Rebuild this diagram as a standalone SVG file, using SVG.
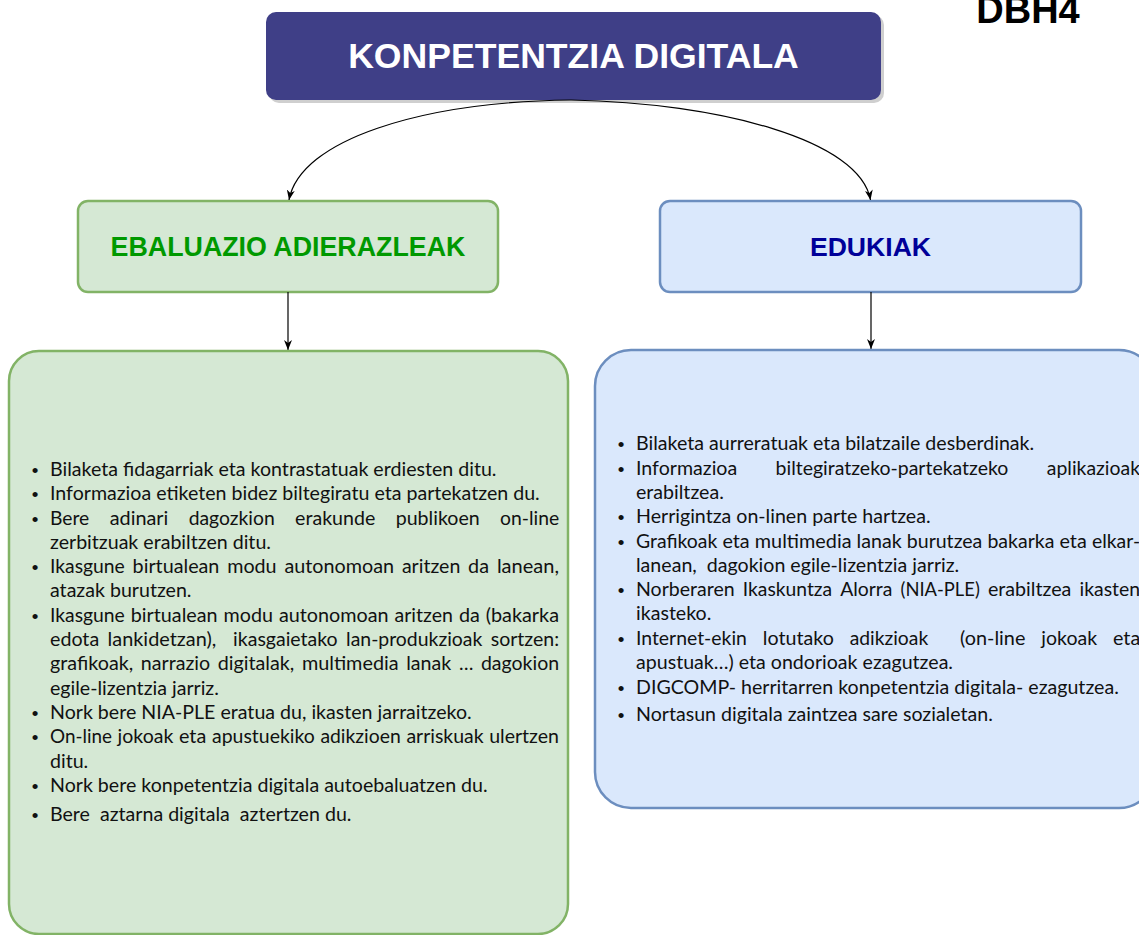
<svg xmlns="http://www.w3.org/2000/svg" width="1139" height="935" viewBox="0 0 1139 935">
<style>
.head{font-family:"Liberation Sans",Arial,sans-serif;font-weight:bold;}
.body{font-family:Lato,"Open Sans",sans-serif;font-size:19.6px;fill:#111;white-space:pre;}
.bul{font-family:"Liberation Sans",Arial,sans-serif;font-size:19px;fill:#111;text-anchor:middle;}
.edge{fill:none;stroke:#000;stroke-width:1.2;marker-end:url(#arr);}
</style>
<defs>
<marker id="arr" viewBox="0 0 10 8" refX="10" refY="4" markerWidth="10" markerHeight="8" markerUnits="userSpaceOnUse" orient="auto">
<path d="M0,0 L10,4 L0,8 L3,4 z" fill="#000"/>
</marker>
</defs>
<rect width="1139" height="935" fill="#fff"/>
<text class="head" x="1028" y="23" font-size="38" text-anchor="middle" fill="#000">DBH4</text>

<g id="title">
<rect x="269" y="15" width="615" height="88" rx="10" fill="#cfcfcf"/>
<rect x="266" y="12" width="615" height="88" rx="10" fill="#3f3f87"/>
<text class="head" x="573.5" y="68" font-size="35.6" text-anchor="middle" fill="#fff">KONPETENTZIA DIGITALA</text>
</g>

<g id="ebaluazio">
<rect x="78" y="201" width="420" height="91" rx="10" fill="#d5e8d4" stroke="#82b366" stroke-width="2.5"/>
<text class="head" x="288" y="256" font-size="26.8" text-anchor="middle" fill="#009900">EBALUAZIO ADIERAZLEAK</text>
</g>

<g id="edukiak">
<rect x="660" y="201" width="421" height="91" rx="10" fill="#dae8fc" stroke="#6c8ebf" stroke-width="2.5"/>
<text class="head" x="870.5" y="256" font-size="26.6" text-anchor="middle" fill="#000099">EDUKIAK</text>
</g>

<g id="connectors">
<path class="edge" d="M571 100 C420 102,300 140,289 200"/>
<path class="edge" d="M571 100 C720 103,860 140,870.5 200"/>
<path class="edge" d="M288 292 L288 350"/>
<path class="edge" d="M871 292 L871 349"/>
</g>

<g id="ebaluazio-list">
<rect x="9" y="351" width="559" height="583" rx="30" fill="#d5e8d4" stroke="#82b366" stroke-width="2.5"/>
<text class="bul" x="35" y="477">•</text>
<text class="bul" x="35" y="501">•</text>
<text class="bul" x="35" y="526">•</text>
<text class="bul" x="35" y="574">•</text>
<text class="bul" x="35" y="623">•</text>
<text class="bul" x="35" y="720">•</text>
<text class="bul" x="35" y="744">•</text>
<text class="bul" x="35" y="793">•</text>
<text class="bul" x="35" y="822">•</text>
<text class="body" x="50" y="476">Bilaketa fidagarriak eta kontrastatuak erdiesten ditu.</text>
<text class="body" x="50" y="500">Informazioa etiketen bidez biltegiratu eta partekatzen du.</text>
<g>
<text class="body" y="525" x="50" textLength="39.3" lengthAdjust="spacingAndGlyphs">Bere</text>
<text class="body" y="525" x="109.7" textLength="58.6" lengthAdjust="spacingAndGlyphs">adinari</text>
<text class="body" y="525" x="188.7" textLength="86" lengthAdjust="spacingAndGlyphs">dagozkion</text>
<text class="body" y="525" x="295.1" textLength="80.2" lengthAdjust="spacingAndGlyphs">erakunde</text>
<text class="body" y="525" x="395.7" textLength="84" lengthAdjust="spacingAndGlyphs">publikoen</text>
<text class="body" y="525" x="500.1" textLength="59.1" lengthAdjust="spacingAndGlyphs">on-line</text>
</g>
<text class="body" x="50" y="549">zerbitzuak erabiltzen ditu.</text>
<g>
<text class="body" y="573" x="50" textLength="74.8" lengthAdjust="spacingAndGlyphs">Ikasgune</text>
<text class="body" y="573" x="132.6" textLength="86.8" lengthAdjust="spacingAndGlyphs">birtualean</text>
<text class="body" y="573" x="227.2" textLength="49.4" lengthAdjust="spacingAndGlyphs">modu</text>
<text class="body" y="573" x="284.5" textLength="109.6" lengthAdjust="spacingAndGlyphs">autonomoan</text>
<text class="body" y="573" x="401.9" textLength="58.4" lengthAdjust="spacingAndGlyphs">aritzen</text>
<text class="body" y="573" x="468.1" textLength="20.9" lengthAdjust="spacingAndGlyphs">da</text>
<text class="body" y="573" x="496.9" textLength="62.1" lengthAdjust="spacingAndGlyphs">lanean,</text>
</g>
<text class="body" x="50" y="597">atazak burutzen.</text>
<g>
<text class="body" y="622" x="50" textLength="74.8" lengthAdjust="spacingAndGlyphs">Ikasgune</text>
<text class="body" y="622" x="130.8" textLength="86.8" lengthAdjust="spacingAndGlyphs">birtualean</text>
<text class="body" y="622" x="223.5" textLength="49.4" lengthAdjust="spacingAndGlyphs">modu</text>
<text class="body" y="622" x="278.9" textLength="109.6" lengthAdjust="spacingAndGlyphs">autonomoan</text>
<text class="body" y="622" x="394.5" textLength="58.4" lengthAdjust="spacingAndGlyphs">aritzen</text>
<text class="body" y="622" x="458.9" textLength="20.9" lengthAdjust="spacingAndGlyphs">da</text>
<text class="body" y="622" x="485.7" textLength="73.3" lengthAdjust="spacingAndGlyphs">(bakarka</text>
</g>
<g>
<text class="body" y="646" x="50" textLength="49.2" lengthAdjust="spacingAndGlyphs">edota</text>
<text class="body" y="646" x="107.6" textLength="108.7" lengthAdjust="spacingAndGlyphs">lankidetzan),</text>
<text class="body" y="646" x="233.1" textLength="104.6" lengthAdjust="spacingAndGlyphs">ikasgaietako</text>
<text class="body" y="646" x="346.1" textLength="136.2" lengthAdjust="spacingAndGlyphs">lan-produkzioak</text>
<text class="body" y="646" x="490.7" textLength="68.4" lengthAdjust="spacingAndGlyphs">sortzen:</text>
</g>
<g>
<text class="body" y="670" x="50" textLength="83.2" lengthAdjust="spacingAndGlyphs">grafikoak,</text>
<text class="body" y="670" x="140.8" textLength="69.3" lengthAdjust="spacingAndGlyphs">narrazio</text>
<text class="body" y="670" x="217.7" textLength="76.6" lengthAdjust="spacingAndGlyphs">digitalak,</text>
<text class="body" y="670" x="301.9" textLength="96.7" lengthAdjust="spacingAndGlyphs">multimedia</text>
<text class="body" y="670" x="406.2" textLength="45.1" lengthAdjust="spacingAndGlyphs">lanak</text>
<text class="body" y="670" x="458.9" textLength="14.4" lengthAdjust="spacingAndGlyphs">…</text>
<text class="body" y="670" x="480.9" textLength="78.2" lengthAdjust="spacingAndGlyphs">dagokion</text>
</g>
<text class="body" x="50" y="695">egile-lizentzia jarriz.</text>
<text class="body" x="50" y="719">Nork bere NIA-PLE eratua du, ikasten jarraitzeko.</text>
<g>
<text class="body" y="743" x="50" textLength="61.9" lengthAdjust="spacingAndGlyphs">On-line</text>
<text class="body" y="743" x="117.6" textLength="55.8" lengthAdjust="spacingAndGlyphs">jokoak</text>
<text class="body" y="743" x="179" textLength="27.3" lengthAdjust="spacingAndGlyphs">eta</text>
<text class="body" y="743" x="212" textLength="102.8" lengthAdjust="spacingAndGlyphs">apustuekiko</text>
<text class="body" y="743" x="320.4" textLength="80.3" lengthAdjust="spacingAndGlyphs">adikzioen</text>
<text class="body" y="743" x="406.4" textLength="77.2" lengthAdjust="spacingAndGlyphs">arriskuak</text>
<text class="body" y="743" x="489.2" textLength="69.8" lengthAdjust="spacingAndGlyphs">ulertzen</text>
</g>
<text class="body" x="50" y="768">ditu.</text>
<text class="body" x="50" y="792">Nork bere konpetentzia digitala autoebaluatzen du.</text>
<text class="body" x="50" y="821">Bere  aztarna digitala  aztertzen du.</text>
</g>

<g id="edukiak-list">
<rect x="595" y="350" width="560" height="458" rx="36" fill="#dae8fc" stroke="#6c8ebf" stroke-width="2.5"/>
<text class="bul" x="621" y="451">•</text>
<text class="bul" x="621" y="476">•</text>
<text class="bul" x="621" y="524">•</text>
<text class="bul" x="621" y="549">•</text>
<text class="bul" x="621" y="597">•</text>
<text class="bul" x="621" y="646">•</text>
<text class="bul" x="621" y="695">•</text>
<text class="bul" x="621" y="722">•</text>
<text class="body" x="636" y="450">Bilaketa aurreratuak eta bilatzaile desberdinak.</text>
<g>
<text class="body" y="475" x="636" textLength="101.2" lengthAdjust="spacingAndGlyphs">Informazioa</text>
<text class="body" y="475" x="775.6" textLength="232.8" lengthAdjust="spacingAndGlyphs">biltegiratzeko-partekatzeko</text>
<text class="body" y="475" x="1046.8" textLength="93.2" lengthAdjust="spacingAndGlyphs">aplikazioak</text>
</g>
<text class="body" x="636" y="499">erabiltzea.</text>
<text class="body" x="636" y="523">Herrigintza on-linen parte hartzea.</text>
<g>
<text class="body" y="548" x="636" textLength="81.3" lengthAdjust="spacingAndGlyphs">Grafikoak</text>
<text class="body" y="548" x="722.4" textLength="27.3" lengthAdjust="spacingAndGlyphs">eta</text>
<text class="body" y="548" x="754.8" textLength="96.7" lengthAdjust="spacingAndGlyphs">multimedia</text>
<text class="body" y="548" x="856.6" textLength="45.1" lengthAdjust="spacingAndGlyphs">lanak</text>
<text class="body" y="548" x="906.8" textLength="75.5" lengthAdjust="spacingAndGlyphs">burutzea</text>
<text class="body" y="548" x="987.4" textLength="67" lengthAdjust="spacingAndGlyphs">bakarka</text>
<text class="body" y="548" x="1059.5" textLength="27.3" lengthAdjust="spacingAndGlyphs">eta</text>
<text class="body" y="548" x="1091.9" textLength="48.2" lengthAdjust="spacingAndGlyphs">elkar-</text>
</g>
<text class="body" x="636" y="572">lanean,  dagokion egile-lizentzia jarriz.</text>
<g>
<text class="body" y="596" x="636" textLength="98.7" lengthAdjust="spacingAndGlyphs">Norberaren</text>
<text class="body" y="596" x="742.8" textLength="89.3" lengthAdjust="spacingAndGlyphs">Ikaskuntza</text>
<text class="body" y="596" x="840.2" textLength="52.2" lengthAdjust="spacingAndGlyphs">Alorra</text>
<text class="body" y="596" x="900.5" textLength="79.3" lengthAdjust="spacingAndGlyphs">(NIA-PLE)</text>
<text class="body" y="596" x="987.9" textLength="83.5" lengthAdjust="spacingAndGlyphs">erabiltzea</text>
<text class="body" y="596" x="1079.5" textLength="60.6" lengthAdjust="spacingAndGlyphs">ikasten</text>
</g>
<text class="body" x="636" y="620">ikasteko.</text>
<g>
<text class="body" y="645" x="636" textLength="110.9" lengthAdjust="spacingAndGlyphs">Internet-ekin</text>
<text class="body" y="645" x="762.8" textLength="71" lengthAdjust="spacingAndGlyphs">lotutako</text>
<text class="body" y="645" x="849.7" textLength="78.5" lengthAdjust="spacingAndGlyphs">adikzioak</text>
<text class="body" y="645" x="960" textLength="65.4" lengthAdjust="spacingAndGlyphs">(on-line</text>
<text class="body" y="645" x="1041.3" textLength="55.8" lengthAdjust="spacingAndGlyphs">jokoak</text>
<text class="body" y="645" x="1113" textLength="27.3" lengthAdjust="spacingAndGlyphs">eta</text>
</g>
<text class="body" x="636" y="669">apustuak…) eta ondorioak ezagutzea.</text>
<text class="body" x="636" y="694">DIGCOMP- herritarren konpetentzia digitala- ezagutzea.</text>
<text class="body" x="636" y="721">Nortasun digitala zaintzea sare sozialetan.</text>
</g>
</svg>
